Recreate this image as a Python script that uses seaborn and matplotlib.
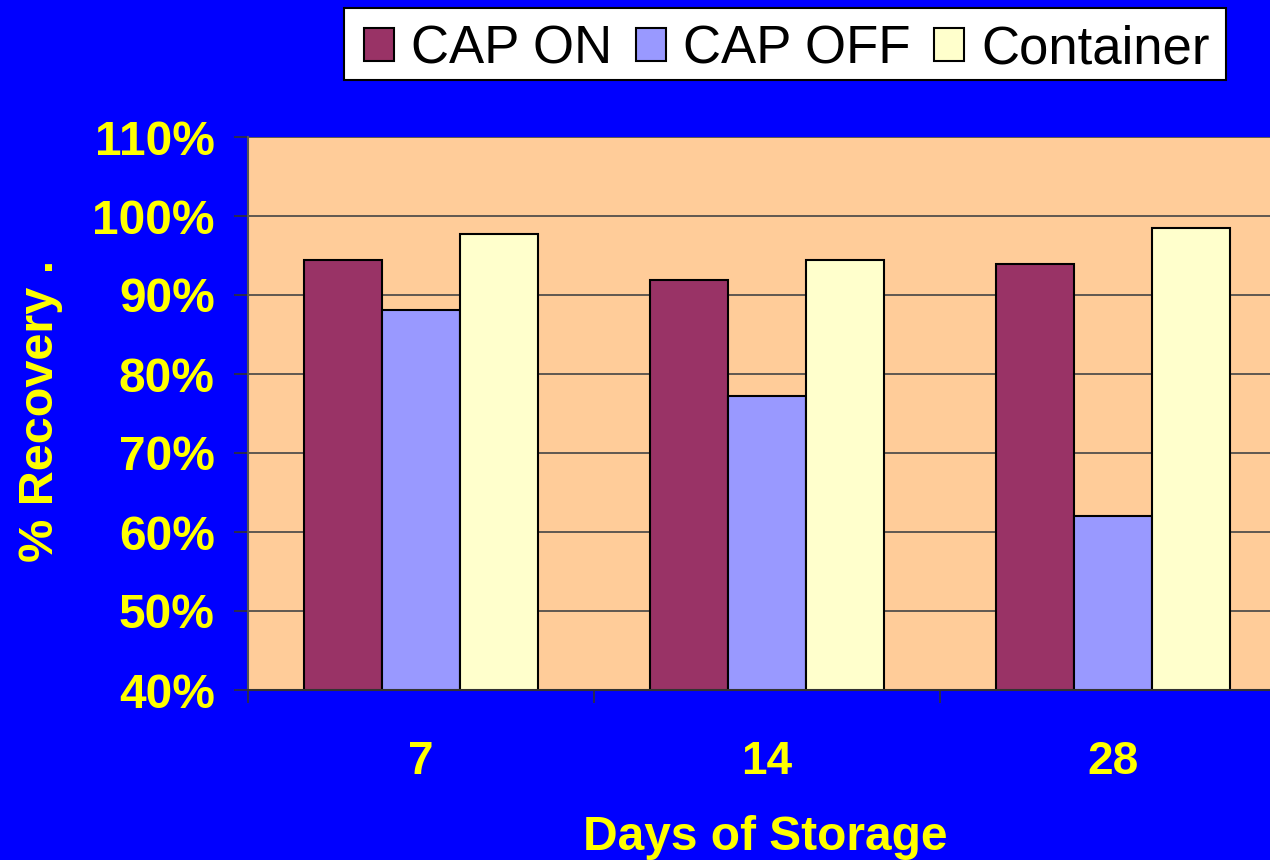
import matplotlib
matplotlib.use("Agg")
import matplotlib.pyplot as plt
import seaborn as sns
import pandas as pd
from matplotlib.patches import Rectangle
from matplotlib.ticker import FixedLocator, PercentFormatter

days = ["7", "14", "28"]
series = ["CAP ON", "CAP OFF", "Container"]
cap_on = [94.4, 91.9, 93.9]
cap_off = [88.1, 77.2, 62.0]
container = [97.7, 94.4, 98.5]
colors = ["#993366", "#9999FF", "#FFFFCC"]
yticks = [40, 50, 60, 70, 80, 90, 100, 110]

rows = []
for name, vals in zip(series, [cap_on, cap_off, container]):
    for d, v in zip(days, vals):
        rows.append({"Days": d, "Series": name, "Recovery": v})
df = pd.DataFrame(rows)

sns.set_theme(style="white")
plt.rcParams["font.family"] = ["Liberation Sans", "DejaVu Sans"]

W, H = 1270, 860
fig = plt.figure(figsize=(W / 100, H / 100), dpi=100, facecolor="#0000FF")
ax = fig.add_axes([248 / W, 1 - 690 / H, 1038 / W, (690 - 137) / H])
ax.set_facecolor("#FFCC99")

sns.barplot(data=df, x="Days", y="Recovery", hue="Series", order=days,
            hue_order=series, palette=colors, width=0.675, edgecolor="black",
            linewidth=1.5, ax=ax, legend=True, errorbar=None, saturation=1)

ax.set_ylim(40, 110)
ax.set_xlim(-0.5, 2.5)
ax.yaxis.set_major_locator(FixedLocator(yticks))
ax.yaxis.set_major_formatter(PercentFormatter(decimals=0))
ax.grid(axis="y", color="#444444", linewidth=1.2)
ax.set_axisbelow(True)

for s in ["top", "right"]:
    ax.spines[s].set_visible(False)
ax.spines["left"].set_color("#555555")
ax.spines["left"].set_linewidth(1.5)
ax.spines["bottom"].set_color("#333333")
ax.spines["bottom"].set_linewidth(1.5)

ax.tick_params(axis="y", which="major", direction="out", length=10, width=1.2,
               color="#333333", pad=14, labelsize=34.5, labelcolor="#FFFF00", left=True)
for lbl in ax.get_yticklabels():
    lbl.set_fontweight("bold")

ax.xaxis.set_minor_locator(FixedLocator([-0.5, 0.5, 1.5, 2.5]))
ax.tick_params(axis="x", which="major", length=0, pad=36, labelsize=33,
               labelcolor="#FFFF00", bottom=True)
ax.tick_params(axis="x", which="minor", direction="out", length=9, width=1.2,
               color="#333333", bottom=True)
for lbl in ax.get_xticklabels():
    lbl.set_fontweight("bold")

ax.set_xlabel("")
ax.set_ylabel("")
fig.text(765 / W, 1 - 850 / H, "Days of Storage", ha="center", va="baseline",
         fontsize=34.5, fontweight="bold", color="#FFFF00")
fig.text(41 / W, 1 - 411 / H, "% Recovery .", ha="center", va="center",
         rotation=90, fontsize=35, fontweight="bold", color="#FFFF00")

# legend box
fig.patches.append(Rectangle((344 / W, 1 - 80 / H), (1226 - 344) / W, 72 / H,
                             transform=fig.transFigure, facecolor="white",
                             edgecolor="black", linewidth=1.5, zorder=5))

handles, labels = ax.get_legend_handles_labels()
if ax.legend_:
    ax.legend_.remove()
leg = fig.legend(handles, labels, loc="center",
                 bbox_to_anchor=(787 / W, 1 - 49 / H), ncol=3, fontsize=38,
                 frameon=False, borderaxespad=0, handlelength=0.57, handleheight=0.57,
                 handletextpad=0.32, columnspacing=0.45, borderpad=0,
                 labelcolor="black")
leg.set_zorder(6)

fig.savefig("out.png", dpi=100, facecolor=fig.get_facecolor())
